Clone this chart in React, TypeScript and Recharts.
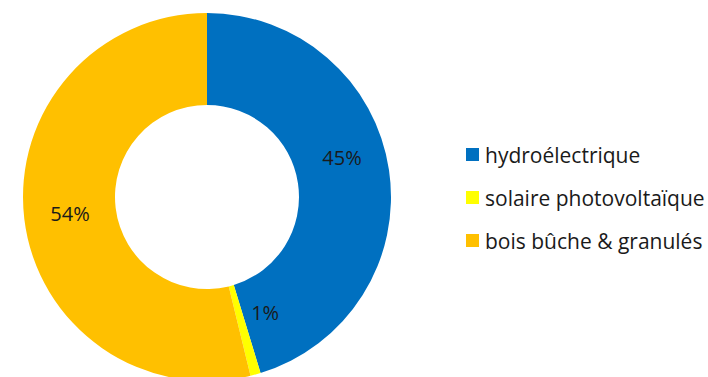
import { Cell, Legend, Pie, PieChart } from "recharts";

const categories = ["hydroélectrique", "solaire photovoltaïque", "bois bûche & granulés"];
const shares = [45.3, 0.9, 53.8];
const colors = ["#0070C0", "#FFFF00", "#FFC000"];
// best-fit label nudges (degrees, radius factor) like Excel places them
const labelTurn = [8, 11.5, 0];
const labelRadius = [1.02, 0.935, 1];

const data = categories.map((name, i) => ({ name, value: shares[i] }));

const RAD = Math.PI / 180;

function renderLabel(props: any) {
  const { cx, cy, innerRadius, outerRadius, midAngle, percent, index } = props;
  const r = ((innerRadius + outerRadius) / 2) * labelRadius[index];
  const angle = midAngle + labelTurn[index];
  const x = cx + r * Math.cos(-angle * RAD);
  const y = cy + r * Math.sin(-angle * RAD);
  return (
    <text x={x} y={y} textAnchor="middle" dominantBaseline="central" fill="#1a1a1a" fontSize={20}>
      {`${Math.round(percent * 100)}%`}
    </text>
  );
}

function LegendBox() {
  return (
    <div style={{ display: "flex", flexDirection: "column", gap: 16 }}>
      {categories.map((name, i) => (
        <div key={name} style={{ display: "flex", alignItems: "center", height: 27 }}>
          <span style={{ width: 13, height: 13, background: colors[i], marginRight: 6 }} />
          <span style={{ fontSize: 21, color: "#1a1a1a" }}>{name}</span>
        </div>
      ))}
    </div>
  );
}

export default function App() {
  return (
    <div style={{ position: "absolute", left: 0, top: 0, fontFamily: "'Open Sans', sans-serif" }}>
      <PieChart width={708} height={377} margin={{ top: 0, right: 0, bottom: 0, left: 0 }}>
        <Pie
          data={data}
          dataKey="value"
          cx={207}
          cy={197}
          innerRadius={92}
          outerRadius={184}
          startAngle={90}
          endAngle={-270}
          stroke="none"
          label={renderLabel}
          labelLine={false}
          isAnimationActive={false}
        >
          {data.map((d, i) => (
            <Cell key={d.name} fill={colors[i]} />
          ))}
        </Pie>
        <Legend
          layout="vertical"
          align="right"
          verticalAlign="top"
          wrapperStyle={{ left: 466, top: 141, width: 240 }}
          content={() => <LegendBox />}
        />
      </PieChart>
    </div>
  );
}
